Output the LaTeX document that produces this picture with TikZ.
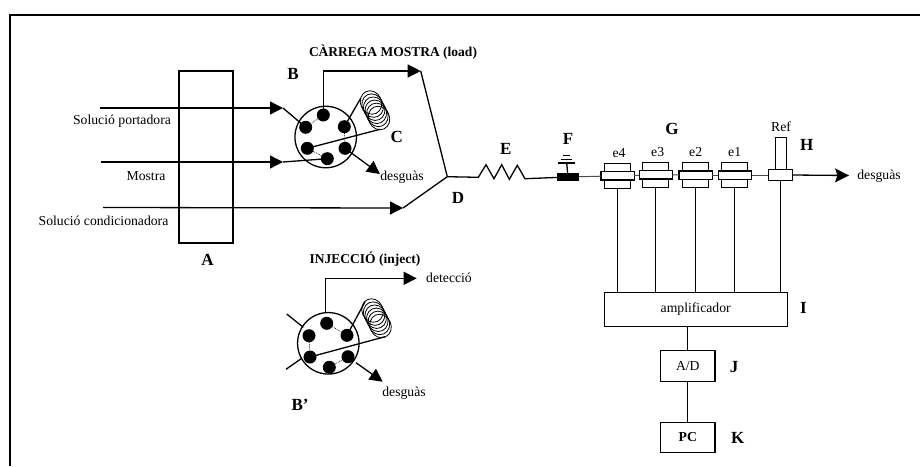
\documentclass[tikz,border=0pt]{standalone}
\usepackage{fontspec}
\setmainfont{Liberation Serif}
\usetikzlibrary{arrows.meta}

\begin{document}
\begin{tikzpicture}[x=1pt,y=-1pt,line width=1.3pt,
  every node/.style={inner sep=0pt, outer sep=0pt},
  lbl/.style={font=\fontsize{13.7}{15}\selectfont},
  letter/.style={font=\fontsize{17}{18}\selectfont\bfseries},
  heading/.style={font=\fontsize{13.5}{15}\selectfont\bfseries},
  valvedot/.style={circle, fill=black, minimum size=13pt},
  valvebody/.style={circle, draw, minimum size=61.5pt},
  box/.style={rectangle, draw, fill=white},
  flow/.style={-{Triangle[length=13pt,width=13pt]}},
  outflow/.style={-{Stealth[length=14pt,width=14pt,inset=2.5pt]}},
  link/.style={densely dotted, line width=0.7pt},
  coilturn/.style={line width=0.8pt, rotate=25},
  joint/.style={line width=1pt, black!70}]
\useasboundingbox (0,0) rectangle (920,466);

\draw[line width=1.6pt] (10,466) -- (10,15) -- (920,15);

\node[box, fill=none, minimum width=54pt, minimum height=172pt] (colA) at (206,157) {};
\node[letter] (labA) at (207.5,260) {A};
\node[lbl] (labPort) at (122,121) {Solució portadora};
\node[lbl] (labMos) at (146,176) {Mostra};
\node[lbl] (labCond) at (103.5,221) {Solució condicionadora};

\node[valvebody] (valve1) at (325.7,137) {};
\node[valvedot] (a1) at (323.3,115) {};
\node[valvedot] (a2) at (344.3,126.7) {};
\node[valvedot] (a3) at (345,148.3) {};
\node[valvedot] (a4) at (327.3,158.7) {};
\node[valvedot] (a5) at (307.3,148.3) {};
\node[valvedot] (a6) at (305.7,127.3) {};
\draw[link] (a1) -- (a6);
\draw[link] (a2) -- (a3);
\draw[link] (a5) -- (a4);

\draw[shift={(371,102.5)},coilturn] (0,0) ellipse (10.5pt and 12pt);
\draw[shift={(372.6,105.6)},coilturn] (0,0) ellipse (10.5pt and 12pt);
\draw[shift={(374.2,108.7)},coilturn] (0,0) ellipse (10.5pt and 12pt);
\draw[shift={(375.8,111.8)},coilturn] (0,0) ellipse (10.5pt and 12pt);
\draw[shift={(377.4,114.9)},coilturn] (0,0) ellipse (10.5pt and 12pt);
\draw[shift={(379,118)},coilturn] (0,0) ellipse (10.5pt and 12pt);
\coordinate (coil1a) at (360.7,98.3);
\coordinate (coil1b) at (380,129.3);
\draw (a2.center) -- (coil1a);
\draw (a5.center) -- (coil1b);

\coordinate (startP) at (100,108);
\coordinate (tipP) at (283,108);
\coordinate (startM) at (101,162);
\coordinate (tipM) at (283,162);
\coordinate (startC) at (103,207.5);
\coordinate (tipC) at (403,208);
\coordinate (corner1) at (323.3,71);
\coordinate (tipT) at (420.7,71);
\coordinate (nodeD) at (447.3,176.7);
\coordinate (tipW1) at (380,174);
\draw[flow] (startP) -- (tipP);
\draw (tipP) -- (a6.center);
\draw[flow] (startM) -- (tipM);
\draw (tipM) -- (a4.center);
\draw[flow] (startC) -- (tipC);
\draw (tipC) -- (nodeD);
\draw[flow] (a1.center) -- (corner1) -- (tipT);
\draw (tipT) -- (nodeD);
\draw[flow] (a3.center) -- (tipW1);

\node[letter] (labB) at (293,74) {B};
\node[letter] (labC) at (396.7,136.7) {C};
\node[letter] (labD) at (458,198) {D};
\node[heading] (load) at (393,52) {CÀRREGA MOSTRA (load)};
\node[lbl] (waste1) at (402,177) {desguàs};

\node[valvebody] (valve2) at (328.3,343.3) {};
\node[valvedot] (b1) at (326.7,323.3) {};
\node[valvedot] (b2) at (347,335.3) {};
\node[valvedot] (b3) at (348,356.7) {};
\node[valvedot] (b4) at (329.3,367.3) {};
\node[valvedot] (b5) at (310,357) {};
\node[valvedot] (b6) at (309,335.7) {};
\draw[link] (b1) -- (b2);
\draw[link] (b6) -- (b5);
\draw[link] (b4) -- (b3);

\draw[shift={(372.5,310.5)},coilturn] (0,0) ellipse (10.5pt and 12pt);
\draw[shift={(374.1,313.6)},coilturn] (0,0) ellipse (10.5pt and 12pt);
\draw[shift={(375.7,316.7)},coilturn] (0,0) ellipse (10.5pt and 12pt);
\draw[shift={(377.3,319.8)},coilturn] (0,0) ellipse (10.5pt and 12pt);
\draw[shift={(378.9,322.9)},coilturn] (0,0) ellipse (10.5pt and 12pt);
\draw[shift={(380.5,326)},coilturn] (0,0) ellipse (10.5pt and 12pt);
\coordinate (coil2a) at (365,301.7);
\coordinate (coil2b) at (385,336.7);
\draw (b2.center) -- (coil2a);
\draw (b5.center) -- (coil2b);

\coordinate (tick1a) at (286.7,314);
\coordinate (tick1b) at (303.3,327.3);
\coordinate (tick2a) at (286,369.3);
\coordinate (tick2b) at (301.7,358.3);
\coordinate (corner2) at (325.3,278.3);
\coordinate (tipDet) at (416.7,278.3);
\coordinate (startW2) at (356,362.7);
\coordinate (tipW2) at (382.7,381.7);
\draw (tick1a) -- (tick1b);
\draw (tick2a) -- (tick2b);
\draw[flow] (valve2.north -| corner2) -- (corner2) -- (tipDet);
\draw[flow] (startW2) -- (tipW2);

\node[heading] (inject) at (365,259) {INJECCIÓ (inject)};
\node[lbl] (det) at (449,278) {detecció};
\node[lbl] (waste2) at (404,393) {desguàs};
\node[letter] (labBp) at (300,405) {B’};

\coordinate (r0) at (478.3,177.3);
\coordinate (r7) at (525,178.7);
\node[rectangle, fill=black, minimum width=22pt, minimum height=7.4pt] (block) at (568,177) {};
\coordinate (gnd) at (566.7,163);
\draw (nodeD) -- (r0) -- (486,164.7) -- (494,178.7) -- (501.7,164.7) -- (509.3,179.3) -- (517.3,165.3) -- (r7) -- (block);
\draw (block) -- (gnd);
\draw (558.3,163) -- (574.5,163);
\draw (560.7,159.3) -- (571.7,159.3);
\draw (563.3,155.7) -- (570,155.7);
\node[letter] (labE) at (505.7,149.3) {E};
\node[letter] (labF) at (568,139.3) {F};
\node[letter] (labG) at (672,129) {G};

\node[box, minimum width=183pt, minimum height=34.4pt] (amp) at (695.7,309.5) {};
\node[lbl] at (amp.center) (ampText) {amplificador};
\node[letter] (labI) at (803.3,308.3) {I};

\node[box, minimum width=26pt, minimum height=25pt] (e4out) at (617.5,175.8) {};
\node[box, minimum width=33.3pt, minimum height=8.3pt] (e4in) at (617.5,175.8) {};
\node[box, minimum width=26pt, minimum height=25pt] (e3out) at (655.7,174.8) {};
\node[box, minimum width=33.3pt, minimum height=8.3pt] (e3in) at (655.8,174.8) {};
\node[box, minimum width=26pt, minimum height=25pt] (e2out) at (695.5,175) {};
\node[box, minimum width=33.3pt, minimum height=8.3pt] (e2in) at (695.6,175) {};
\node[box, minimum width=26pt, minimum height=25pt] (e1out) at (734.7,175) {};
\node[box, minimum width=33.3pt, minimum height=8.3pt] (e1in) at (735,175) {};
\node[box, minimum width=11pt, minimum height=32pt] (tube) at (781.2,153.3) {};
\node[box, minimum width=24pt, minimum height=11.4pt] (ref) at (780.3,175) {};

\draw[joint] (block) -- (e4in);
\draw[joint] (e4in) -- (e3in);
\draw[joint] (e3in) -- (e2in);
\draw[joint] (e2in) -- (e1in);
\draw[joint] (e1in) -- (ref);

\draw (e4out.south) -- (e4out.south |- amp.north);
\draw (e3out.south) -- (e3out.south |- amp.north);
\draw (e2out.south) -- (e2out.south |- amp.north);
\draw (e1out.south) -- (e1out.south |- amp.north);
\draw (ref.south) -- (ref.south |- amp.north);

\coordinate (tipH) at (849,175.5);
\draw[outflow] (ref.east) -- (tipH);

\node[lbl] (labE4) at (619,152.7) {e4};
\node[lbl] (labE3) at (657.7,152) {e3};
\node[lbl] (labE2) at (695.7,151.7) {e2};
\node[lbl] (labE1) at (734.7,152) {e1};
\node[lbl] (labRef) at (781,127) {Ref};
\node[letter] (labH) at (806.7,145) {H};
\node[lbl] (waste3) at (879,176) {desguàs};

\node[box, minimum width=54.3pt, minimum height=30.6pt] (ad) at (687.8,366) {\fontsize{13.7}{15}\selectfont A/D};
\node[box, minimum width=54.3pt, minimum height=30.4pt] (pc) at (687.8,437.5) {\fontsize{13.7}{15}\selectfont\bfseries PC};
\node[letter] (labJ) at (734,366.7) {J};
\node[letter] (labK) at (737.7,437.7) {K};
\draw (ad.north |- amp.south) -- (ad.north);
\draw (ad) -- (pc);
\end{tikzpicture}
\end{document}
